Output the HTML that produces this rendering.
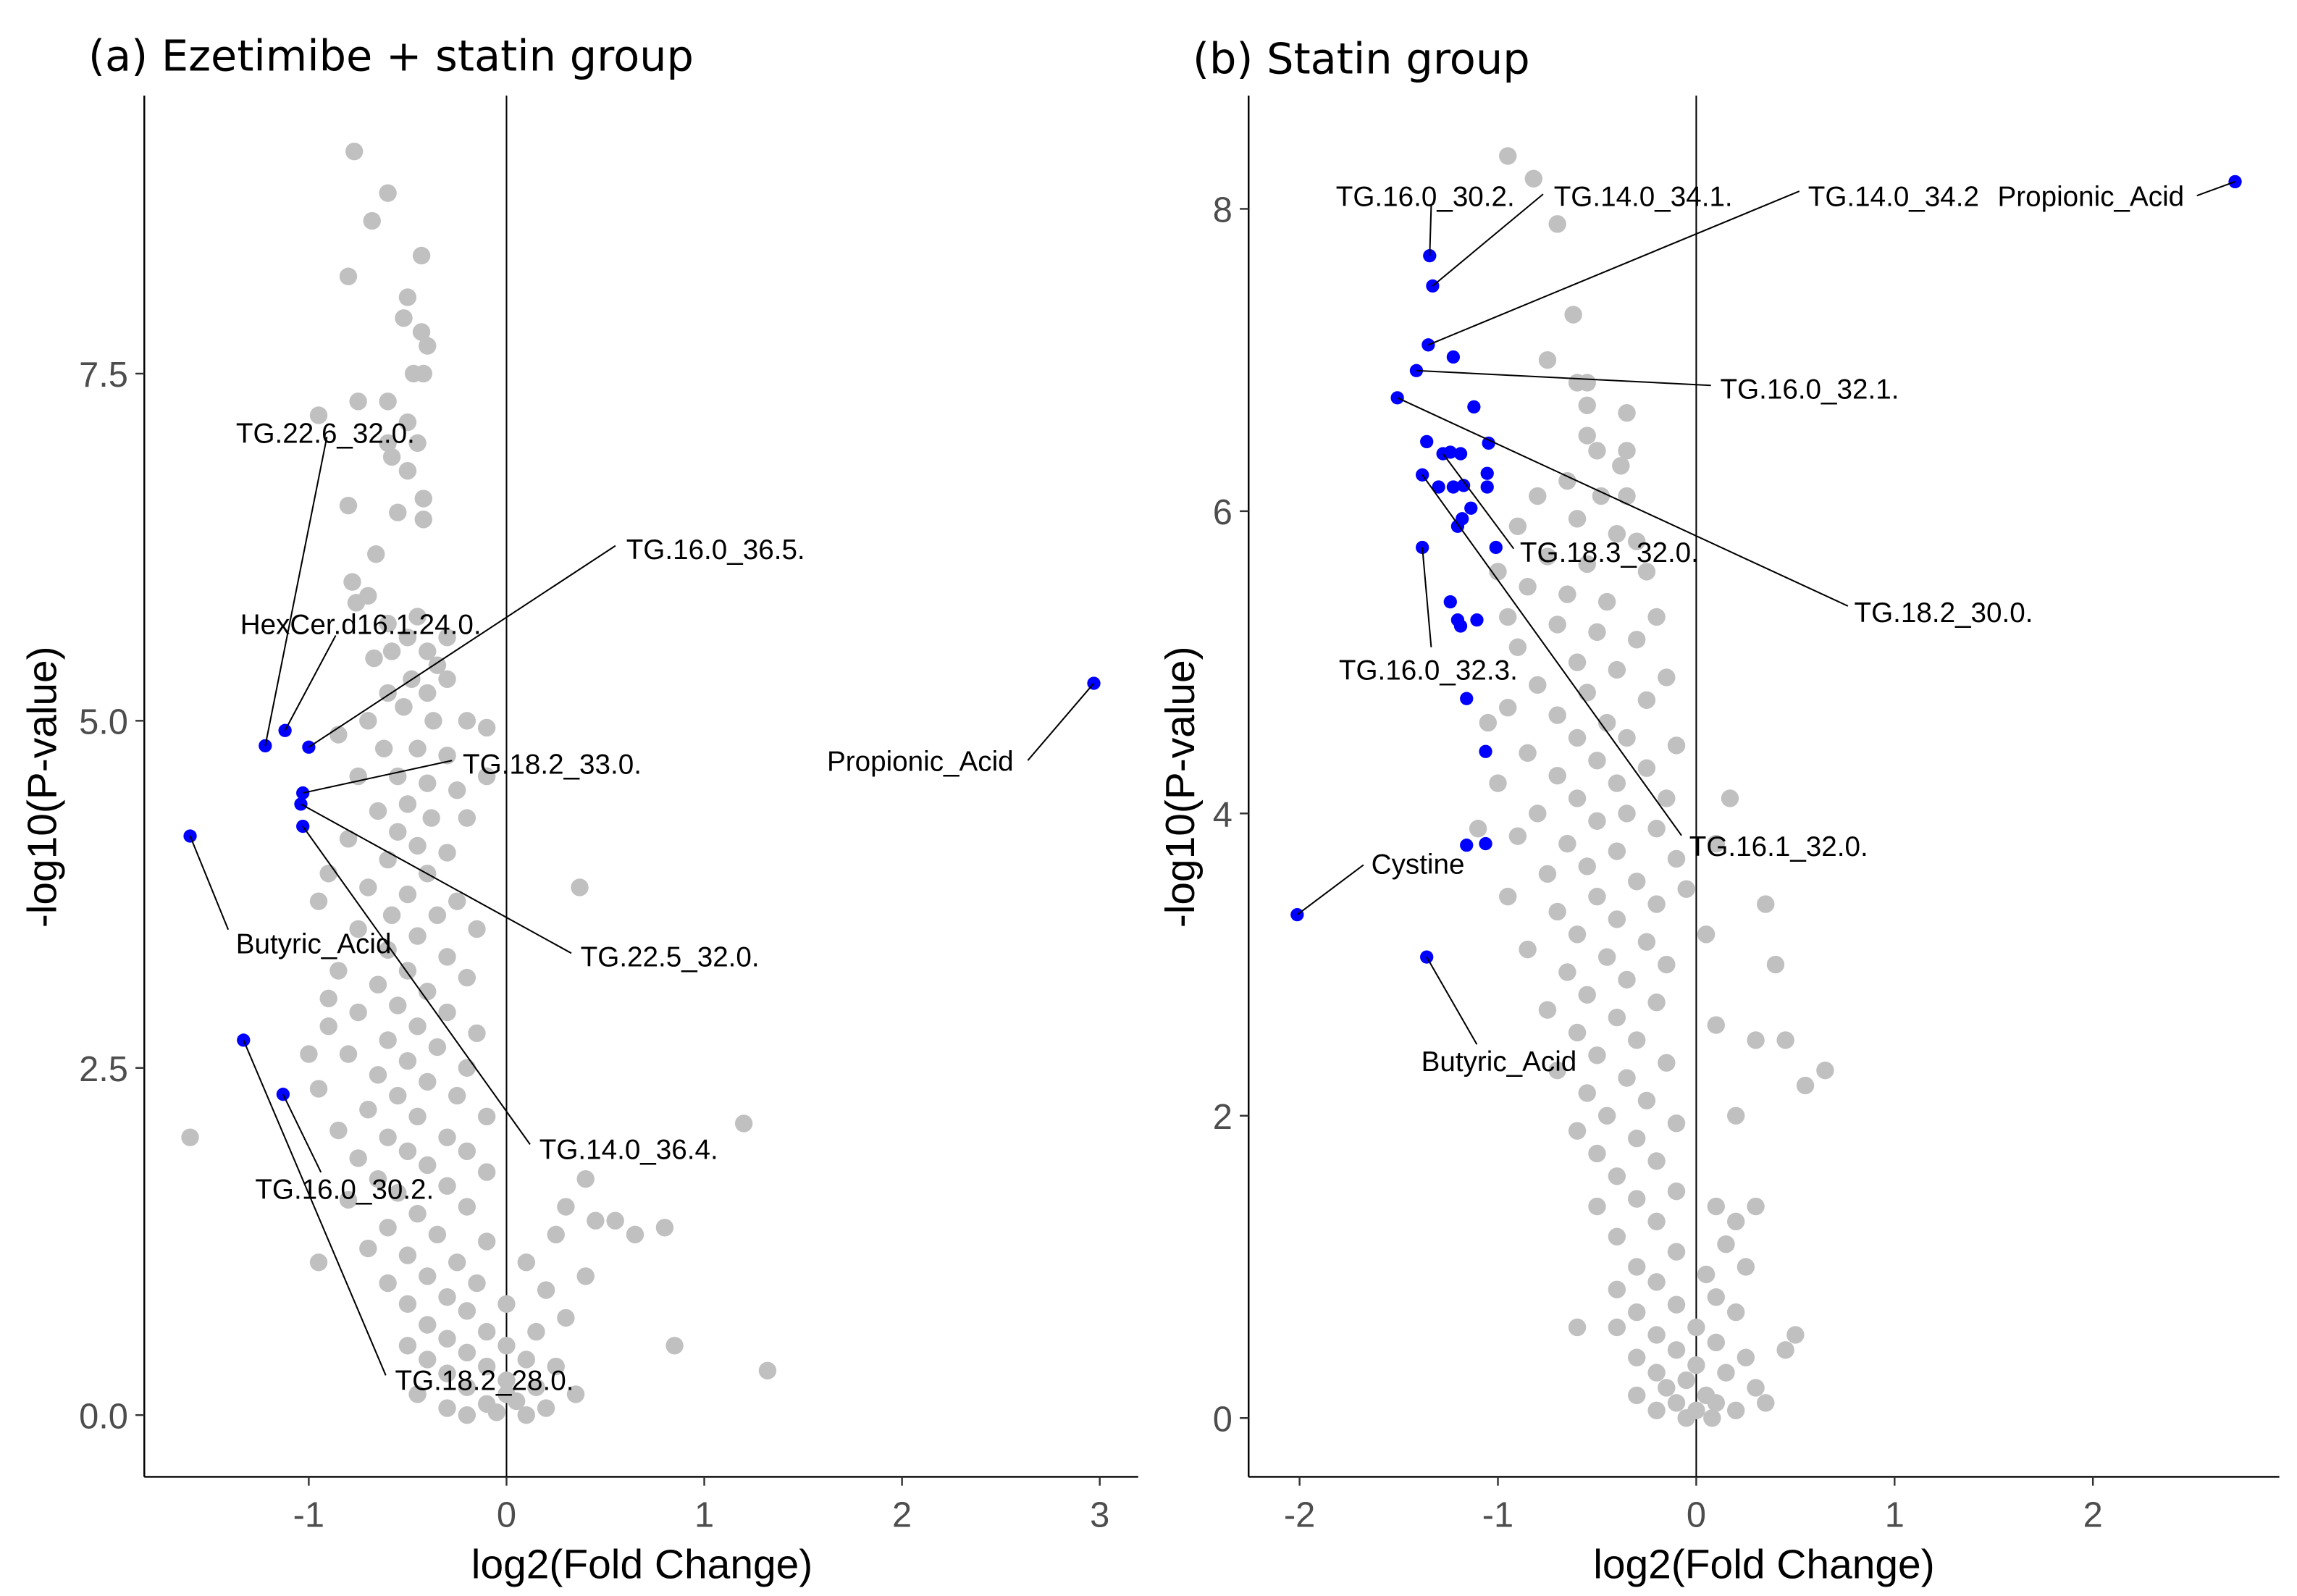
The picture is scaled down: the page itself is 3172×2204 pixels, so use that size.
<!DOCTYPE html>
<html><head><meta charset="utf-8">
<style>
html,body{margin:0;padding:0;background:#fff;}
svg{display:block;font-family:"Liberation Sans",sans-serif;}
</style></head>
<body>
<svg id="chart" width="3172" height="2204" viewBox="0 0 1560 1085" preserveAspectRatio="none" xmlns="http://www.w3.org/2000/svg">
<rect width="1560" height="1085" fill="#fff"/>
<text x="60" y="48" font-size="29" fill="#000" font-family="DejaVu Sans, sans-serif">(a) Ezetimibe + statin group</text>
<text x="810" y="50" font-size="29" fill="#000" font-family="DejaVu Sans, sans-serif">(b) Statin group</text>
<text x="436" y="1073" font-size="28" text-anchor="middle">log2(Fold Change)</text>
<text x="1198" y="1073" font-size="28" text-anchor="middle">log2(Fold Change)</text>
<text transform="translate(38,535) rotate(-90)" font-size="28" text-anchor="middle">-log10(P-value)</text>
<text transform="translate(811,535) rotate(-90)" font-size="28" text-anchor="middle">-log10(P-value)</text>
<g id="ga"></g>
<g id="gb"></g>
</svg>
<script>
// ---- Panel A data ----
const aXTicks = [-1, 0, 1, 2, 3];
const aYTicks = [0, 2.5, 5, 7.5];
const aYTickLabels = ["0.0", "2.5", "5.0", "7.5"];
const aGrayX = [-0.77,-0.6,-0.68,-0.8,-0.43,-0.5,-0.52,-0.43,-0.4,-0.47,-0.42,-0.75,-0.6,-0.5,-0.95,-0.6,-0.45,-0.58,-0.5,-0.42,-0.8,-0.55,-0.42,-0.66,-0.78,-0.7,-0.76,-0.6,-0.45,-0.5,-0.58,-0.4,-0.67,-0.35,-0.48,-0.6,-0.4,-0.3,-0.52,-0.7,-0.37,-0.2,-0.1,-0.85,-0.62,-0.45,-0.3,-0.55,-0.75,-0.4,-0.25,-0.5,-0.65,-0.38,-0.2,-0.55,-0.8,-0.45,-0.3,-0.6,-0.9,-0.4,-0.7,-0.5,-0.25,0.37,-0.58,-0.35,-0.75,-0.45,-0.15,-0.6,-0.3,-0.85,-0.5,-0.2,-0.65,-0.4,-0.55,-0.75,-0.3,-0.9,-0.45,-0.15,-0.6,-0.35,-0.8,-0.5,-0.2,-0.65,-0.4,-0.95,-0.55,-0.25,-0.7,-0.45,-0.1,-0.85,-0.6,-0.3,-0.5,-0.75,-0.2,-0.4,-0.65,-0.1,-0.3,-0.55,-0.8,-0.2,-0.45,0.3,0.45,0.55,0.8,0.65,0.25,-0.6,-0.35,-0.1,-0.7,-0.5,-0.25,0.1,0.4,-0.4,-0.6,-0.15,0.2,-0.3,-0.5,0.0,-0.2,0.3,-0.4,-0.1,0.15,-0.3,0.0,-0.5,0.85,-0.2,0.1,-0.4,0.25,-0.1,1.32,-0.3,0.0,0.15,-0.2,0.35,-0.45,0.05,-0.1,-0.3,0.2,-0.05,0.1,-0.2,0.0,1.2,-1.6,0.4,-0.95,-0.9,-1.0,-0.95,-0.3,-0.1];
const aGrayY = [9.1,8.8,8.6,8.2,8.35,8.05,7.9,7.8,7.7,7.5,7.5,7.3,7.3,7.15,7.2,7.0,7.0,6.9,6.8,6.6,6.55,6.5,6.45,6.2,6.0,5.9,5.85,5.7,5.75,5.6,5.5,5.5,5.45,5.4,5.3,5.2,5.2,5.3,5.1,5.0,5.0,5.0,4.95,4.9,4.8,4.8,4.75,4.6,4.6,4.55,4.5,4.4,4.35,4.3,4.3,4.2,4.15,4.1,4.05,4.0,3.9,3.9,3.8,3.75,3.7,3.8,3.6,3.6,3.5,3.45,3.5,3.35,3.3,3.2,3.2,3.15,3.1,3.05,2.95,2.9,2.9,2.8,2.8,2.75,2.7,2.65,2.6,2.55,2.5,2.45,2.4,2.35,2.3,2.3,2.2,2.15,2.15,2.05,2.0,2.0,1.9,1.85,1.9,1.8,1.7,1.75,1.65,1.6,1.55,1.5,1.45,1.5,1.4,1.4,1.35,1.3,1.3,1.35,1.3,1.25,1.2,1.15,1.1,1.1,1.0,1.0,0.95,0.95,0.9,0.85,0.8,0.8,0.75,0.7,0.65,0.6,0.6,0.55,0.5,0.5,0.5,0.45,0.4,0.4,0.35,0.35,0.32,0.3,0.25,0.2,0.2,0.15,0.15,0.1,0.08,0.05,0.05,0.02,0.0,0.0,0.15,2.1,2.0,1.7,1.1,3.0,2.6,3.7,5.6,4.6];
const aBlueX = [2.97,-1.6,-1.22,-1.12,-1.0,-1.03,-1.04,-1.03,-1.33,-1.13];
const aBlueY = [5.27,4.17,4.82,4.93,4.81,4.48,4.4,4.24,2.7,2.31];
const aLabels = ["Propionic_Acid","Butyric_Acid","TG.22.6_32.0.","HexCer.d16.1.24.0.","TG.16.0_36.5.","TG.18.2_33.0.","TG.22.5_32.0.","TG.14.0_36.4.","TG.18.2_28.0.","TG.16.0_30.2."];

// ---- Panel B data ----
const bXTicks = [-2, -1, 0, 1, 2];
const bYTicks = [0, 2, 4, 6, 8];
const bYTickLabels = ["0", "2", "4", "6", "8"];
const bGrayX = [-0.95,-0.82,-0.7,-0.62,-0.75,-0.6,-0.55,-0.55,-0.35,-0.55,-0.5,-0.35,-0.38,-0.65,-0.8,-0.48,-0.35,-0.9,-0.6,-0.4,-0.3,-0.75,-0.55,-0.25,-0.85,-0.65,-0.45,-0.2,-0.7,-0.5,-0.3,-0.9,-0.6,-0.4,-0.15,-0.8,-0.55,-0.25,-0.95,-0.7,-0.45,-0.6,-0.35,-0.1,-0.85,-0.5,-0.25,-0.7,-1.0,-0.4,-0.15,-0.6,-0.8,-0.35,-0.5,-0.2,-0.9,-0.65,-0.4,-0.1,-0.55,-0.75,-0.3,-0.95,-0.5,-0.2,-0.7,-0.4,-0.6,-0.25,-0.85,-0.45,-0.15,-0.65,-0.35,-0.55,-0.2,-0.75,-0.4,-0.6,-0.3,-0.5,-0.15,-0.7,-0.35,-0.55,-0.25,-0.45,-0.1,-0.6,-0.3,-0.5,-0.2,-0.4,-0.1,-0.3,-0.5,0.1,0.2,0.3,-0.2,-0.4,0.15,-0.1,-0.3,0.25,0.05,-0.2,-0.4,0.1,-0.1,-0.3,0.2,0.0,-0.2,0.5,0.45,-0.4,0.1,-0.1,-0.3,0.25,0.0,-0.2,0.15,-0.05,0.3,-0.15,0.05,-0.3,0.1,-0.1,0.2,0.0,-0.05,0.08,-0.2,0.35,-0.6,0.17,0.35,0.4,0.3,0.45,0.55,0.65,0.2,0.1,0.05,-0.05,-1.1,-1.05,-0.95,-1.0,0.1];
const bGrayY = [8.35,8.2,7.9,7.3,7.0,6.85,6.85,6.7,6.65,6.5,6.4,6.4,6.3,6.2,6.1,6.1,6.1,5.9,5.95,5.85,5.8,5.7,5.65,5.6,5.5,5.45,5.4,5.3,5.25,5.2,5.15,5.1,5.0,4.95,4.9,4.85,4.8,4.75,4.7,4.65,4.6,4.5,4.5,4.45,4.4,4.35,4.3,4.25,4.2,4.2,4.1,4.1,4.0,4.0,3.95,3.9,3.85,3.8,3.75,3.7,3.65,3.6,3.55,3.45,3.45,3.4,3.35,3.3,3.2,3.15,3.1,3.05,3.0,2.95,2.9,2.8,2.75,2.7,2.65,2.55,2.5,2.4,2.35,2.3,2.25,2.15,2.1,2.0,1.95,1.9,1.85,1.75,1.7,1.6,1.5,1.45,1.4,1.4,1.3,1.4,1.3,1.2,1.15,1.1,1.0,1.0,0.95,0.9,0.85,0.8,0.75,0.7,0.7,0.6,0.55,0.55,0.45,0.6,0.5,0.45,0.4,0.4,0.35,0.3,0.3,0.25,0.2,0.2,0.15,0.15,0.1,0.1,0.05,0.05,0.0,0.0,0.05,0.1,0.6,4.1,3.4,3.0,2.5,2.5,2.2,2.3,2.0,2.6,3.2,3.5,3.9,4.6,5.3,5.6,3.8];
const bBlueX = [2.717,-1.344,-1.329,-1.351,-1.225,-1.411,-1.507,-1.121,-1.359,-1.047,-1.24,-1.277,-1.188,-1.381,-1.054,-1.054,-1.173,-1.299,-1.225,-1.136,-1.18,-1.203,-1.01,-1.381,-1.24,-1.203,-1.188,-1.106,-1.158,-1.062,-1.158,-1.062,-2.012,-1.359];
const bBlueY = [8.18,7.69,7.49,7.10,7.02,6.93,6.75,6.69,6.46,6.45,6.39,6.38,6.38,6.24,6.25,6.16,6.17,6.16,6.16,6.02,5.95,5.90,5.76,5.76,5.40,5.28,5.24,5.28,4.76,4.41,3.79,3.80,3.33,3.05];
const bLabels = ["Propionic_Acid","TG.16.0_30.2.","TG.14.0_34.1.","TG.14.0_34.2","TG.16.0_32.1.","TG.18.2_30.0.","TG.18.3_32.0.","TG.16.0_32.3.","TG.16.1_32.0.","Cystine","Butyric_Acid"];

// ---- layout (not data) ----
const NS = "http://www.w3.org/2000/svg";
const panelA = {g:document.getElementById('ga'), left:98, right:773, top:65, bottom:1004, x0:344, xs:134.3, y0:962, ys:94.4, p:'panel-a'};
const panelB = {g:document.getElementById('gb'), left:848, right:1548, top:65, bottom:1004, x0:1152, xs:134.7, y0:964, ys:102.75, p:'panel-b'};
function sx(P, v){ return P.x0 + v*P.xs; }
function sy(P, v){ return P.y0 - v*P.ys; }
function mk(tag, parent, attrs){
  const e = document.createElementNS(NS, tag);
  for (const k in attrs) e.setAttribute(k, attrs[k]);
  parent.appendChild(e);
  return e;
}
function axes(P, xt, yt, ytl){
  let e = mk('line', P.g, {x1:P.left, y1:P.top, x2:P.left, y2:P.bottom, stroke:'#000', 'stroke-width':1.2});
  
  
  e = mk('line', P.g, {x1:P.left, y1:P.bottom, x2:P.right, y2:P.bottom, stroke:'#000', 'stroke-width':1.2});
  
  
  e = mk('line', P.g, {x1:sx(P,0), y1:P.top, x2:sx(P,0), y2:P.bottom, stroke:'#000', 'stroke-width':1});
  
  
  xt.forEach(function(v){
    const x = sx(P, v);
    let t = mk('line', P.g, {x1:x, y1:P.bottom, x2:x, y2:P.bottom+6, stroke:'#333', 'stroke-width':1.2});
    
    
    t = mk('text', P.g, {x:x, y:P.bottom+34, 'font-size':24, fill:'#4d4d4d', 'text-anchor':'middle'});
    t.textContent = v < 0 ? '-' + Math.abs(v) : String(v);
    
    
  });
  yt.forEach(function(v, i){
    const y = sy(P, v);
    let t = mk('line', P.g, {x1:P.left-6, y1:y, x2:P.left, y2:y, stroke:'#333', 'stroke-width':1.2});
    
    
    t = mk('text', P.g, {x:P.left-11, y:y+9, 'font-size':24, fill:'#4d4d4d', 'text-anchor':'end'});
    t.textContent = ytl[i];
    
    
  });
}
function grays(P, xs, ys){
  xs.forEach(function(v, i){
    const c = mk('circle', P.g, {cx:sx(P,v), cy:sy(P,ys[i]), r:6, fill:'#c0c0c0'});
    
    
  });
}
function blues(P, xs, ys){
  xs.forEach(function(v, i){
    const c = mk('circle', P.g, {cx:sx(P,v), cy:sy(P,ys[i]), r:4.5, fill:'#0000ff'});
    
    
  });
}
function labels(P, names, lay, xs, ys){
  lay.forEach(function(L){
    const l = mk('line', P.g, {x1:L[3], y1:L[4], x2:sx(P, xs[L[5]]), y2:sy(P, ys[L[5]]), stroke:'#000', 'stroke-width':1});
    
    
    const t = mk('text', P.g, {x:L[1], y:L[2]+7, 'font-size':19, fill:'#000', 'text-anchor':'middle'});
    t.textContent = names[L[0]];
    
    
  });
}
axes(panelA, aXTicks, aYTicks, aYTickLabels);
grays(panelA, aGrayX, aGrayY);
blues(panelA, aBlueX, aBlueY);
labels(panelA, aLabels, [
  [0,625,517,698,517,0],[1,213,641,155,632,1],[2,221,294,222,297,2],[3,245,424,228,432,3],
  [4,486,373,418,371,4],[5,375,519,307,517,5],[6,455,650,388,648,6],[7,427,781,360,778,7],
  [8,329,938,262,935,8],[9,234,808,218,797,9]
], aBlueX, aBlueY);
axes(panelB, bXTicks, bYTicks, bYTickLabels);
grays(panelB, bGrayX, bGrayY);
blues(panelB, bBlueX, bBlueY);
labels(panelB, bLabels, [
  [0,1420,133,1492,133,0],[1,968,133,972,140,1],[2,1116,133,1048,132,2],[3,1286,133,1222,130,3],
  [4,1229,264,1162,262,5],[5,1320,416,1255,412,6],[6,1093,375,1028,373,11],[7,970,455,972,440,23],
  [8,1208,575,1142,568,13],[9,963,587,926,588,32],[10,1018,721,1003,710,33]
], bBlueX, bBlueY);
</script>
</body></html>
